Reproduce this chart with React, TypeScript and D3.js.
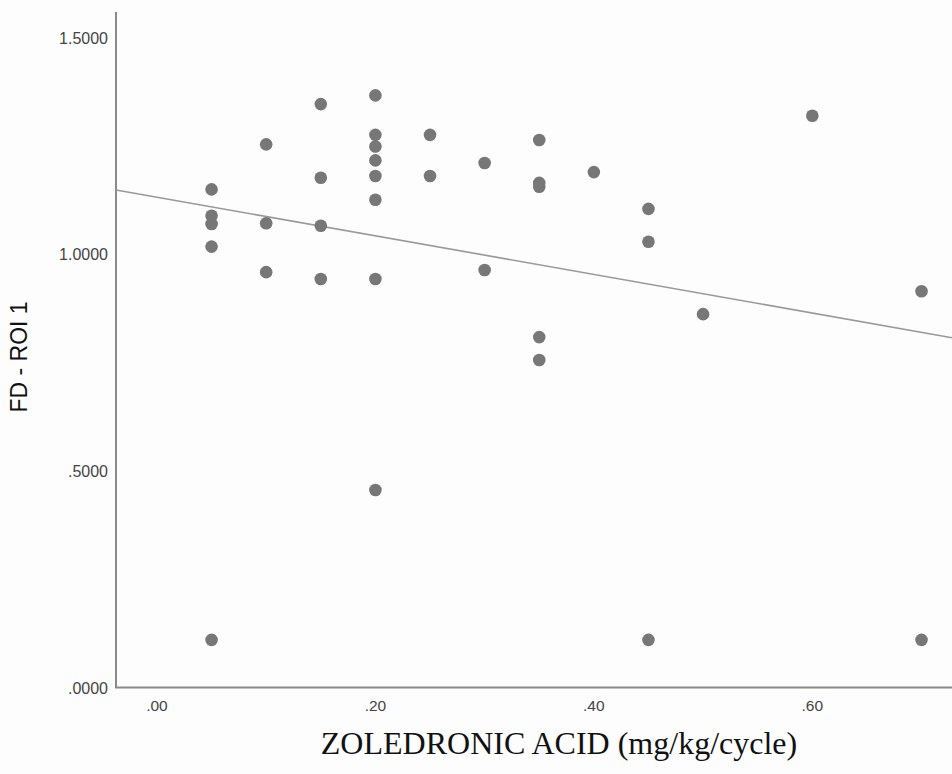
import React, { useRef, useEffect } from "react";
import * as d3 from "d3";

// dose per cycle (mg/kg) and FD values
const doses = [
  0.05, 0.05, 0.05, 0.05, 0.05,
  0.1, 0.1, 0.1,
  0.15, 0.15, 0.15, 0.15,
  0.2, 0.2, 0.2, 0.2, 0.2, 0.2, 0.2, 0.2,
  0.25, 0.25,
  0.3, 0.3,
  0.35, 0.35, 0.35, 0.35, 0.35,
  0.4,
  0.45, 0.45, 0.45,
  0.5,
  0.6,
  0.7, 0.7,
];
const fdValues = [
  1.15, 1.089, 1.07, 1.018, 0.11,
  1.254, 1.072, 0.959,
  1.347, 1.177, 1.066, 0.943,
  1.367, 1.276, 1.249, 1.217, 1.181, 1.126, 0.943, 0.456,
  1.276, 1.181,
  1.211, 0.964,
  1.264, 1.165, 1.156, 0.809, 0.756,
  1.19,
  1.105, 1.029, 0.11,
  0.862,
  1.32,
  0.915, 0.11,
];
const xTicks = [0, 0.2, 0.4, 0.6];
const yTicks = [0, 0.5, 1.0, 1.5];

const W = 952;
const H = 774;

const App = () => {
  const svgRef = useRef(null);

  useEffect(() => {
    const svg = d3.select(svgRef.current);
    svg.selectAll("*").remove();

    const left = 116;
    const right = W;
    const top = 12;
    const bottom = 687.5;

    // x: 0 sits at 157px, 1092 px per unit
    const x = d3.scaleLinear().domain([-0.0375, 0.7279]).range([left, right]);
    const y = d3.scaleLinear().domain([0, 1.5596]).range([bottom, top]);

    const pts = doses.map((d, i) => ({ x: d, y: fdValues[i] }));

    // least squares fit line
    const mx = d3.mean(doses);
    const my = d3.mean(fdValues);
    const sxy = d3.sum(pts, (p) => (p.x - mx) * (p.y - my));
    const sxx = d3.sum(pts, (p) => (p.x - mx) * (p.x - mx));
    const slope = sxy / sxx;
    const icpt = my - slope * mx;

    svg.append("rect").attr("width", W).attr("height", H).attr("fill", "#fdfdfd");

    // axes lines
    svg
      .append("line")
      .attr("x1", left)
      .attr("x2", left)
      .attr("y1", top)
      .attr("y2", bottom)
      .attr("stroke", "#8a8a8a")
      .attr("stroke-width", 2);
    svg
      .append("line")
      .attr("x1", left - 1)
      .attr("x2", right)
      .attr("y1", bottom)
      .attr("y2", bottom)
      .attr("stroke", "#8a8a8a")
      .attr("stroke-width", 2);

    // y tick labels
    svg
      .append("g")
      .selectAll("text")
      .data(yTicks)
      .join("text")
      .attr("x", 108)
      .attr("y", (d) => y(d) + 6)
      .attr("text-anchor", "end")
      .attr("font-family", "Liberation Sans, Arial, sans-serif")
      .attr("font-size", 16)
      .attr("fill", "#444")
      .text((d) => d3.format(".4f")(d).replace(/^0/, ""));

    // x tick labels
    svg
      .append("g")
      .selectAll("text")
      .data(xTicks)
      .join("text")
      .attr("x", (d) => x(d))
      .attr("y", bottom + 23.5)
      .attr("text-anchor", "middle")
      .attr("font-family", "Liberation Sans, Arial, sans-serif")
      .attr("font-size", 15.5)
      .attr("fill", "#444")
      .text((d) => d3.format(".2f")(d).replace(/^0/, ""));

    // fit line
    svg
      .append("line")
      .attr("x1", x(x.domain()[0]))
      .attr("y1", y(icpt + slope * x.domain()[0]))
      .attr("x2", x(x.domain()[1]))
      .attr("y2", y(icpt + slope * x.domain()[1]))
      .attr("stroke", "#999")
      .attr("stroke-width", 1.6);

    // points
    svg
      .append("g")
      .selectAll("circle")
      .data(pts)
      .join("circle")
      .attr("cx", (d) => x(d.x))
      .attr("cy", (d) => y(d.y))
      .attr("r", 6.3)
      .attr("fill", "#777");

    // axis titles
    svg
      .append("text")
      .attr("transform", `translate(27,357) rotate(-90)`)
      .attr("text-anchor", "middle")
      .attr("font-family", "Liberation Sans, Arial, sans-serif")
      .attr("font-size", 23)
      .attr("fill", "#111")
      .text("FD - ROI 1");

    svg
      .append("text")
      .attr("x", 559)
      .attr("y", 754)
      .attr("text-anchor", "middle")
      .attr("font-family", "Liberation Serif, Times New Roman, serif")
      .attr("font-size", 32)
      .attr("fill", "#111")
      .text("ZOLEDRONIC ACID (mg/kg/cycle)");
  }, []);

  return (
    <svg
      ref={svgRef}
      width={W}
      height={H}
      style={{ position: "absolute", left: 0, top: 0 }}
    ></svg>
  );
};

export default App;
